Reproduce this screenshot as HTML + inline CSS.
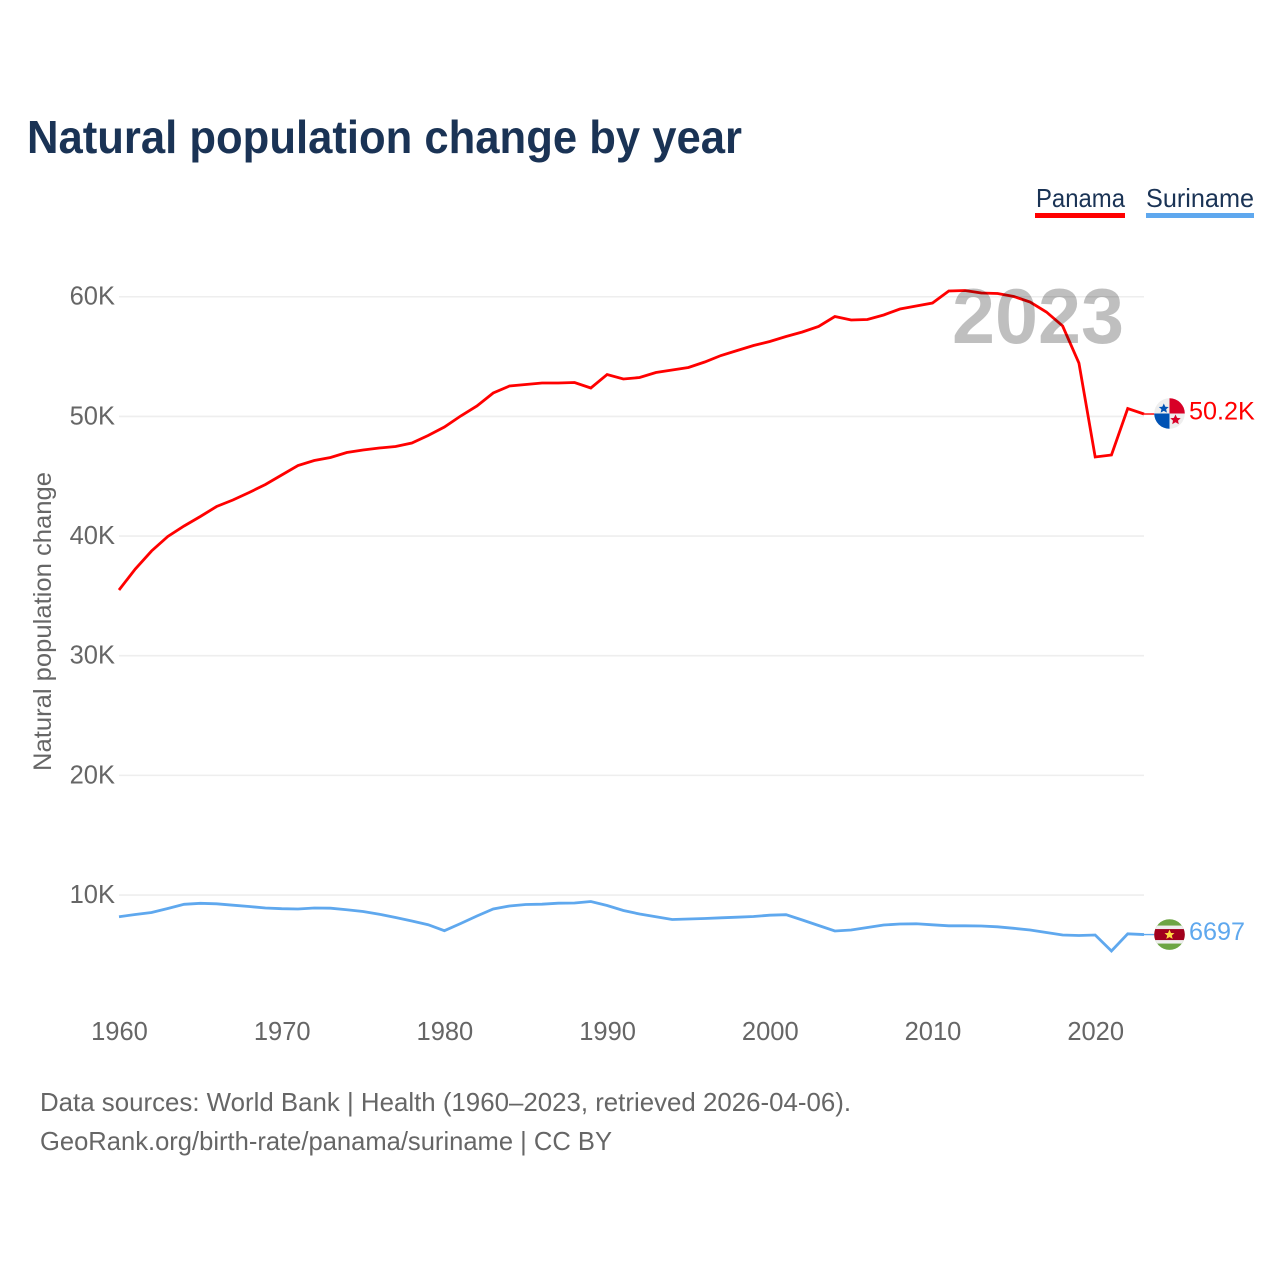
<!DOCTYPE html>
<html lang="en">
<head>
<meta charset="utf-8">
<title>Natural population change by year</title>
<style>
  html, body { margin: 0; padding: 0; background: #fff; }
  svg { display: block; font-family: "Liberation Sans", sans-serif; }
</style>
</head>
<body>
<svg id="chart" xmlns="http://www.w3.org/2000/svg" width="1280" height="1280" viewBox="0 0 1280 1280">
  <rect x="0" y="0" width="1280" height="1280" fill="#ffffff"/>
  <text x="27" y="153" font-size="46" font-weight="700" fill="#1a3355" textLength="715" lengthAdjust="spacingAndGlyphs">Natural population change by year</text>

  <g>
    <text x="1036" y="207" font-size="26" fill="#1a3355" textLength="89" lengthAdjust="spacingAndGlyphs">Panama</text>
    <rect x="1035" y="213" width="90" height="5" fill="#ff0000"/>
  </g>
  <g>
    <text x="1146" y="207" font-size="26" fill="#1a3355" textLength="108" lengthAdjust="spacingAndGlyphs">Suriname</text>
    <rect x="1146" y="213" width="108" height="5" fill="#5fa8ee"/>
  </g>

  <g id="grid"></g>
  <g id="y-axis"></g>
  <g id="x-axis"></g>
  <text transform="translate(51 771) rotate(-90)" font-size="25" fill="#666666" textLength="299" lengthAdjust="spacingAndGlyphs">Natural population change</text>

  <g id="series"></g>
  <text id="year-watermark" x="952" y="343" font-size="78" font-weight="700" fill="#000000" fill-opacity="0.25" textLength="172" lengthAdjust="spacingAndGlyphs">2023</text>

  <defs>
    <clipPath id="clip-circle"><circle cx="0" cy="0" r="15.3"/></clipPath>
  </defs>
  <g id="flag-panama">
    <g clip-path="url(#clip-circle)">
      <rect x="-16" y="-16" width="32" height="32" fill="#eeeeee"/>
      <rect x="0" y="-16" width="16" height="16" fill="#d80027"/>
      <rect x="-16" y="0" width="16" height="16" fill="#0052b4"/>
      <polygon points="-6,-10 -4.4,-6.6 -0.8,-6.3 -3.5,-3.9 -2.7,-0.4 -6,-2.2 -9.3,-0.4 -8.5,-3.9 -11.2,-6.3 -7.6,-6.6" fill="#0052b4" transform="translate(0 -0.5) scale(0.95)"/>
      <polygon points="6,1 7.6,4.4 11.2,4.7 8.5,7.1 9.3,10.6 6,8.8 2.7,10.6 3.5,7.1 0.8,4.7 4.4,4.4" fill="#d80027"/>
    </g>
  </g>
  <g id="flag-suriname">
    <g clip-path="url(#clip-circle)">
      <rect x="-16" y="-16" width="32" height="32" fill="#6da544"/>
      <rect x="-16" y="-9" width="32" height="18" fill="#eeeeee"/>
      <rect x="-16" y="-5.5" width="32" height="11" fill="#a2001d"/>
      <polygon points="0,-5 1.5,-1.6 5,-1.4 2.3,0.9 3.2,4.3 0,2.5 -3.2,4.3 -2.3,0.9 -5,-1.4 -1.5,-1.6" fill="#ffda44"/>
    </g>
  </g>
  <g id="end-labels"></g>

  <text x="40" y="1111" font-size="26" fill="#666666" textLength="811" lengthAdjust="spacingAndGlyphs">Data sources: World Bank | Health (1960–2023, retrieved 2026-04-06).</text>
  <text x="40" y="1150" font-size="26" fill="#666666" textLength="572" lengthAdjust="spacingAndGlyphs">GeoRank.org/birth-rate/panama/suriname | CC BY</text>
</svg>

<script>
const startYear = 1960;
const endYear = 2023;
const yTickValues = [10000, 20000, 30000, 40000, 50000, 60000];
const xTickValues = [1960, 1970, 1980, 1990, 2000, 2010, 2020];
const panamaValues = [
  35492, 37247, 38751, 39963, 40841, 41635, 42470, 43013, 43640, 44309,
  45103, 45897, 46314, 46565, 46983, 47192, 47359, 47484, 47777, 48404,
  49114, 50033, 50869, 51955, 52540, 52666, 52791, 52791, 52833, 52373,
  53501, 53125, 53250, 53669, 53878, 54087, 54546, 55089, 55507, 55925,
  56259, 56677, 57053, 57513, 58349, 58056, 58098, 58474, 58975, 59226,
  59477, 60480, 60522, 60313, 60271, 60020, 59560, 58725, 57555, 54463,
  46607, 46774, 50660, 50200
];
const surinameValues = [
  8190, 8374, 8541, 8875, 9226, 9310, 9268, 9151, 9042, 8917,
  8858, 8833, 8917, 8900, 8767, 8624, 8399, 8123, 7831, 7521,
  7020, 7622, 8248, 8833, 9084, 9209, 9235, 9318, 9335, 9460,
  9126, 8708, 8415, 8190, 7956, 7998, 8039, 8098, 8148, 8207,
  8315, 8357, 7914, 7454, 6995, 7078, 7287, 7496, 7580, 7597,
  7513, 7429, 7429, 7413, 7346, 7220, 7078, 6870, 6660, 6619,
  6660, 5323, 6761, 6697
];

const SVG_NS = 'http://www.w3.org/2000/svg';
const plotLeft = 119;
const plotRight = 1144;
function xScale(year) {
  return plotLeft + (year - startYear) * (plotRight - plotLeft) / (endYear - startYear);
}
function yScale(value) {
  return 1014.7 - value * 119.66 / 10000;
}
function formatTick(value) {
  return (value / 1000) + 'K';
}
function formatValue(value) {
  return value >= 10000 ? (value / 1000).toFixed(1) + 'K' : String(value);
}
function make(tag, attrs, parent) {
  const el = document.createElementNS(SVG_NS, tag);
  for (const key in attrs) el.setAttribute(key, attrs[key]);
  parent.appendChild(el);
  return el;
}

const grid = document.getElementById('grid');
const yAxis = document.getElementById('y-axis');
const xAxis = document.getElementById('x-axis');
const seriesGroup = document.getElementById('series');
const endLabels = document.getElementById('end-labels');

yTickValues.forEach(function (value) {
  const line = make('line', { x1: plotLeft, x2: plotRight, y1: yScale(value), y2: yScale(value), stroke: '#eeeeee', 'stroke-width': 1.6 }, grid);
  
  
  const label = make('text', { x: 115, y: yScale(value) + 8, 'text-anchor': 'end', 'font-size': 25.5, fill: '#666666' }, yAxis);
  label.textContent = formatTick(value);
  
  
});

xTickValues.forEach(function (year) {
  const label = make('text', { x: xScale(year) + 0.5, y: 1040, 'text-anchor': 'middle', 'font-size': 25.5, fill: '#666666' }, xAxis);
  label.textContent = String(year);
  
  
});

function drawSeries(values, color) {
  const points = values.map(function (value, i) {
    return xScale(startYear + i).toFixed(2) + ',' + yScale(value).toFixed(2);
  }).join(' ');
  const line = make('polyline', { points: points, fill: 'none', stroke: color, 'stroke-width': 2.8, 'stroke-linejoin': 'miter' }, seriesGroup);
  
  
  const lastY = yScale(values[values.length - 1]);
  const connector = make('line', { x1: plotRight, x2: 1155, y1: lastY, y2: lastY, stroke: color, 'stroke-width': 1.4 }, seriesGroup);
  
  
  const label = make('text', { x: 1189, y: lastY + 5.5, 'font-size': 25.2, fill: color }, endLabels);
  label.textContent = formatValue(values[values.length - 1]);
  
  
}
drawSeries(panamaValues, '#ff0000');
drawSeries(surinameValues, '#5fa8ee');

document.getElementById('flag-panama').setAttribute('transform', 'translate(1169.5 ' + (yScale(panamaValues[panamaValues.length - 1]) - 0.5) + ')');
document.getElementById('flag-suriname').setAttribute('transform', 'translate(1169.5 ' + yScale(surinameValues[surinameValues.length - 1]) + ')');
</script>
</body>
</html>
